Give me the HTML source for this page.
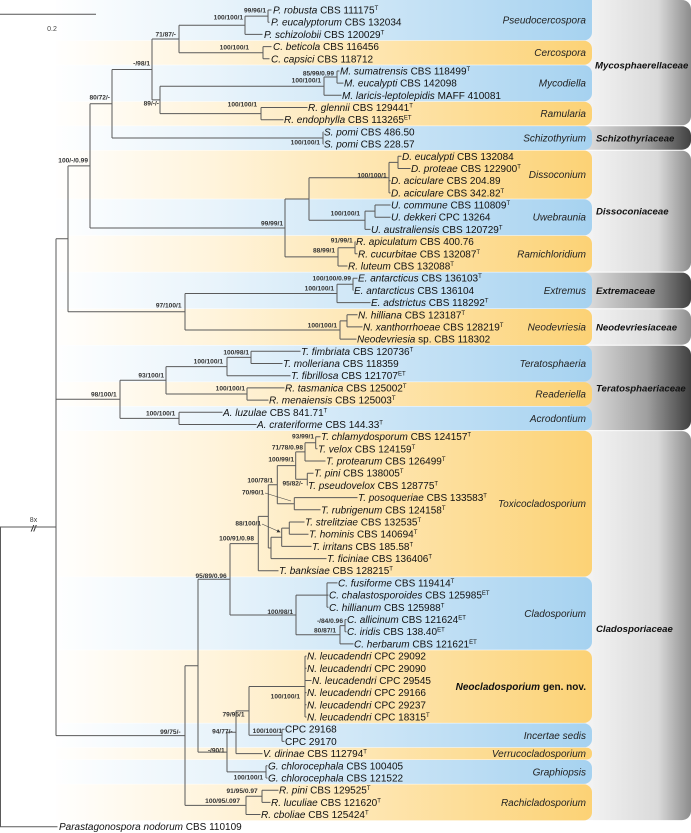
<!DOCTYPE html>
<html><head><meta charset="utf-8"><style>
html,body{margin:0;padding:0;background:#fff;}
svg{display:block;font-family:"Liberation Sans",sans-serif;}
.t{font-size:10px;fill:#111;}
.i{font-style:italic;}
.s{font-size:6px;}
.b{font-size:6.6px;font-weight:bold;fill:#333;text-anchor:end;}
.g{font-size:10px;font-style:italic;fill:#222;text-anchor:end;}
.f{font-size:9.6px;font-style:italic;font-weight:bold;fill:#111;}
</style></head><body>
<svg width="691" height="833" viewBox="0 0 691 833" xmlns="http://www.w3.org/2000/svg">
<defs>
<linearGradient id="bl" gradientUnits="userSpaceOnUse" x1="50" y1="0" x2="592" y2="0">
<stop offset="0" stop-color="#ffffff"/><stop offset="0.3" stop-color="#e9f4fb"/><stop offset="1" stop-color="#a6d2f0"/></linearGradient>
<linearGradient id="or" gradientUnits="userSpaceOnUse" x1="50" y1="0" x2="592" y2="0">
<stop offset="0" stop-color="#ffffff"/><stop offset="0.3" stop-color="#fff4dc"/><stop offset="1" stop-color="#fcd275"/></linearGradient>
<linearGradient id="fl" gradientUnits="userSpaceOnUse" x1="580" y1="0" x2="691" y2="0">
<stop offset="0" stop-color="#f6f6f6"/><stop offset="0.7" stop-color="#dadada"/><stop offset="1" stop-color="#8c8c8c"/></linearGradient>
<linearGradient id="fd" gradientUnits="userSpaceOnUse" x1="580" y1="0" x2="691" y2="0">
<stop offset="0" stop-color="#e4e4e4"/><stop offset="0.6" stop-color="#a0a0a0"/><stop offset="1" stop-color="#404040"/></linearGradient>
<marker id="ah" markerWidth="6" markerHeight="6" refX="5" refY="3" orient="auto"><path d="M0,0 L6,3 L0,6 z" fill="#333"/></marker>
</defs>

<rect x="570" y="0" width="121" height="125.3" rx="9" fill="url(#fl)"/>
<rect x="570" y="126.3" width="121" height="23.4" rx="9" fill="url(#fd)"/>
<rect x="570" y="150.7" width="121" height="120.9" rx="9" fill="url(#fl)"/>
<rect x="570" y="272.6" width="121" height="35.6" rx="9" fill="url(#fd)"/>
<rect x="570" y="309.2" width="121" height="35.5" rx="9" fill="url(#fl)"/>
<rect x="570" y="345.7" width="121" height="84.4" rx="9" fill="url(#fd)"/>
<rect x="570" y="431.1" width="121" height="389" rx="9" fill="url(#fl)"/>

<g>
<rect x="40" y="-10" width="552" height="50.3" rx="8" fill="url(#bl)"/>
<rect x="40" y="40.8" width="552" height="23.9" rx="8" fill="url(#or)"/>
<rect x="40" y="65.2" width="552" height="36" rx="8" fill="url(#bl)"/>
<rect x="40" y="101.7" width="552" height="23.9" rx="8" fill="url(#or)"/>
<rect x="40" y="126.1" width="552" height="23.9" rx="8" fill="url(#bl)"/>
<rect x="40" y="150.5" width="552" height="48.3" rx="8" fill="url(#or)"/>
<rect x="40" y="199.3" width="552" height="36" rx="8" fill="url(#bl)"/>
<rect x="40" y="235.8" width="552" height="36.1" rx="8" fill="url(#or)"/>
<rect x="40" y="272.4" width="552" height="36.1" rx="8" fill="url(#bl)"/>
<rect x="40" y="309" width="552" height="36" rx="8" fill="url(#or)"/>
<rect x="40" y="345.5" width="552" height="36.1" rx="8" fill="url(#bl)"/>
<rect x="40" y="382.1" width="552" height="23.9" rx="8" fill="url(#or)"/>
<rect x="40" y="406.5" width="552" height="23.9" rx="8" fill="url(#bl)"/>
<rect x="40" y="430.9" width="552" height="145.7" rx="8" fill="url(#or)"/>
<rect x="40" y="577.1" width="552" height="72.7" rx="8" fill="url(#bl)"/>
<rect x="40" y="650.3" width="552" height="72.6" rx="8" fill="url(#or)"/>
<rect x="40" y="723.4" width="552" height="23.9" rx="8" fill="url(#bl)"/>
<rect x="40" y="747.8" width="552" height="11.7" rx="5" fill="url(#or)"/>
<rect x="40" y="760" width="552" height="23.9" rx="8" fill="url(#bl)"/>
<rect x="40" y="784.4" width="552" height="36" rx="8" fill="url(#or)"/>
</g>
<rect x="0" y="0" width="56" height="833" fill="#fff"/>

<path d="M0,14.3 H96" stroke="#555" stroke-width="1" fill="none"/>
<text x="52" y="31" font-size="7" fill="#444" text-anchor="middle">0.2</text>
<text x="33.5" y="522" font-size="7" fill="#444" text-anchor="middle">8x</text>
<text x="33.5" y="531.5" font-size="9" font-weight="bold" font-style="italic" fill="#333" text-anchor="middle">//</text>

<path stroke="#5a5a5a" stroke-width="1" fill="none" d="
M268,10V22.2 M268,10H271.5 M268,22.2H269.5
M245,16.1V34.4 M245,16.1H268 M245,34.4H262.5
M263,46.6V58.8 M263,46.6H271.5 M263,58.8H269.5
M179,25.25V52.7 M179,25.25H245 M179,52.7H263
M337,71V83.1 M337,71H339.5 M337,83.1H343.5
M324,77V95.3 M324,77H337 M324,95.3H341.5
M261,107.5V119.7 M261,107.5H307.5 M261,119.7H283.5
M160,86.2V113.6 M160,86.2H324 M160,113.6H261
M152,39V99.9 M152,39H179 M152,99.9H160
M323,131.9V144.1 M323,131.9H323.5 M323,144.1H323.5
M112,69.5V138 M112,69.5H152 M112,138H323
M398,156.3V168.5 M398,156.3H401.5 M398,168.5H410.5
M389,162.4V192.9 M389,162.4H398 M389,180.7H390.5 M389,192.9H390.5
M375,205V217.2 M375,205H390.5 M375,217.2H390.5
M365,211.1V229.4 M365,211.1H375 M365,229.4H370.5
M309,177.7V220.3 M309,177.7H389 M309,220.3H365
M355,241.6V253.8 M355,241.6H355.5 M355,253.8H357.5
M338,247.7V266 M338,247.7H355 M338,266H347.5
M285,199V256.9 M285,199H309 M285,256.9H338
M90,103.8V228 M90,103.8H112 M90,228H285
M353,278.2V290.4 M353,278.2H357.5 M353,290.4H353.5
M337,284.3V302.6 M337,284.3H353 M337,302.6H370.5
M347,314.8V326.9 M347,314.8H357.5 M347,326.9H362.5
M340,320.9V339.1 M340,320.9H347 M340,339.1H356.5
M185,293.5V330 M185,293.5H337 M185,330H340
M68,165.9V311.7 M68,165.9H90 M68,311.7H185
M251,351.3V363.5 M251,351.3H300.5 M251,363.5H282.5
M227,357.4V375.7 M227,357.4H251 M227,375.7H290.5
M247,387.9V400.1 M247,387.9H284.5 M247,400.1H268.5
M166,366.6V394 M166,366.6H227 M166,394H247
M179,412.3V424.5 M179,412.3H222.5 M179,424.5H256.5
M120,380.3V418.4 M120,380.3H166 M120,418.4H179
M315.7,436.7V448.8 M315.7,436.7H320.5 M315.7,448.8H317.5
M305,442.8V461 M305,442.8H315.7 M305,461H325.5
M307.3,473.2V485.4 M307.3,473.2H313.5 M307.3,485.4H307.5
M295.7,451.9V479.3 M295.7,451.9H305 M295.7,479.3H307.3
M294.3,497.6V509.8 M294.3,497.6H357.5 M294.3,509.8H320.5
M277.3,465.6V503.7 M277.3,465.6H295.7 M277.3,503.7H294.3
M289.3,522V534.2 M289.3,522H304.5 M289.3,534.2H308.5
M281.7,528.1V546.4 M281.7,528.1H289.3 M281.7,546.4H311.5
M271,537.3V558.6 M271,537.3H281.7 M271,558.6H326.5
M268.3,484.7V548 M268.3,484.7H277.3 M268.3,548H271
M258.3,516.4V570.7 M258.3,516.4H268.3 M258.3,570.7H278.5
M327,582.9V607.3 M327,582.9H337.5 M327,595.1H328.5 M327,607.3H328.5
M345,619.5V631.7 M345,619.5H346.5 M345,631.7H346.5
M340,625.6V643.9 M340,625.6H345 M340,643.9H353.5
M296,595.1V634.8 M296,595.1H327 M296,634.8H340
M230,543.6V615 M230,543.6H258.3 M230,615H296
M305,656.1V717 M305,656.1H306.5 M305,668.3H306.5 M305,680.5H311.5 M305,692.6H306.5 M305,704.8H306.5 M305,717H306.5
M282,729.2V741.4 M282,729.2H284.5 M282,741.4H284.5
M249,686.5V735.3 M249,686.5H305 M249,735.3H282
M236,710.9V753.6 M236,710.9H249 M236,753.6H262.5
M266,765.8V778 M266,765.8H267.5 M266,778H267.5
M227,732.3V771.9 M227,732.3H236 M227,771.9H266
M198,579.3V752.1 M198,579.3H230 M198,752.1H227
M262,790.2V802.4 M262,790.2H278.5 M262,802.4H270.5
M246,796.3V814.5 M246,796.3H262 M246,814.5H260.5
M185,665.7V805.4 M185,665.7H198 M185,805.4H246
M56,238.8V735.6 M56,238.8H68 M56,399.3H120 M56,735.6H185
M0,527H56 M0.5,527V826.7 M0,826.7H57.5
"/>
<path d="M265,493 L291,501 M262,524 L280,532" stroke="#444" stroke-width="0.6" fill="none" marker-end="url(#ah)"/>

<g class="b">
<text x="266" y="12.5">99/96/1</text>
<text x="243" y="19.5">100/100/1</text>
<text x="176" y="36.5">71/87/-</text>
<text x="249" y="49.5">100/100/1</text>
<text x="150" y="65.5">-/98/1</text>
<text x="334" y="75.5">85/99/0.99</text>
<text x="321" y="82.5">100/100/1</text>
<text x="159" y="105.5">89/-/-</text>
<text x="257" y="106.5">100/100/1</text>
<text x="110" y="99.5">80/72/-</text>
<text x="320" y="144.5">100/100/1</text>
<text x="88" y="162.5">100/-/0.99</text>
<text x="386.7" y="177.5">100/100/1</text>
<text x="360" y="215.5">100/100/1</text>
<text x="283" y="225.5">99/99/1</text>
<text x="352.7" y="242.5">91/99/1</text>
<text x="335" y="252.5">88/99/1</text>
<text x="351" y="280.5">100/100/0.99</text>
<text x="334" y="290.5">100/100/1</text>
<text x="181.5" y="307.5">97/100/1</text>
<text x="337" y="327.5">100/100/1</text>
<text x="249" y="354.5">100/98/1</text>
<text x="223" y="363.5">100/100/1</text>
<text x="164" y="377.5">93/100/1</text>
<text x="245" y="390.5">100/100/1</text>
<text x="116.7" y="396.5">98/100/1</text>
<text x="175.3" y="415.5">100/100/1</text>
<text x="314" y="438.5">93/99/1</text>
<text x="303" y="449.5">71/78/0.98</text>
<text x="294" y="461.5">100/99/1</text>
<text x="273" y="482.5">100/78/1</text>
<text x="303" y="485.5">95/82/-</text>
<text x="264" y="494.5">70/90/1</text>
<text x="261" y="525.5">88/100/1</text>
<text x="254" y="540.5">100/91/0.98</text>
<text x="226.7" y="578">95/89/0.96</text>
<text x="293" y="614">100/98/1</text>
<text x="343" y="623">-/84/0.96</text>
<text x="336" y="632.5">80/87/1</text>
<text x="300" y="698.5">100/100/1</text>
<text x="244.5" y="716.5">79/95/1</text>
<text x="282" y="733">100/100/1</text>
<text x="232.6" y="733.5">94/77/-</text>
<text x="224.7" y="752.5">-/90/1</text>
<text x="263" y="779.5">100/100/1</text>
<text x="257.7" y="793">91/95/0.97</text>
<text x="240" y="803">100/95/.097</text>
<text x="180.6" y="734">99/75/-</text>
</g>

<g class="t">
<text x="273" y="13.5"><tspan class="i">P. robusta</tspan> CBS 111175<tspan class="s" dy="-3.5">T</tspan></text>
<text x="271" y="25.7"><tspan class="i">P. eucalyptorum</tspan> CBS 132034</text>
<text x="264" y="37.9"><tspan class="i">P. schizolobii</tspan> CBS 120029<tspan class="s" dy="-3.5">T</tspan></text>
<text x="273" y="50.1"><tspan class="i">C. beticola</tspan> CBS 116456</text>
<text x="271" y="62.3"><tspan class="i">C. capsici</tspan> CBS 118712</text>
<text x="340" y="74.5"><tspan class="i">M. sumatrensis</tspan> CBS 118499<tspan class="s" dy="-3.5">T</tspan></text>
<text x="344" y="86.6"><tspan class="i">M. eucalypti</tspan> CBS 142098</text>
<text x="342" y="98.8"><tspan class="i">M. laricis-leptolepidis</tspan> MAFF 410081</text>
<text x="308" y="111"><tspan class="i">R. glennii</tspan> CBS 129441<tspan class="s" dy="-3.5">T</tspan></text>
<text x="284" y="123.2"><tspan class="i">R. endophylla</tspan> CBS 113265<tspan class="s" dy="-3.5">ET</tspan></text>
<text x="324" y="135.4"><tspan class="i">S. pomi</tspan> CBS 486.50</text>
<text x="324" y="147.6"><tspan class="i">S. pomi</tspan> CBS 228.57</text>
<text x="402" y="159.8"><tspan class="i">D. eucalypti</tspan> CBS 132084</text>
<text x="411" y="172"><tspan class="i">D. proteae</tspan> CBS 122900<tspan class="s" dy="-3.5">T</tspan></text>
<text x="391" y="184.2"><tspan class="i">D. aciculare</tspan> CBS 204.89</text>
<text x="391" y="196.4"><tspan class="i">D. aciculare</tspan> CBS 342.82<tspan class="s" dy="-3.5">T</tspan></text>
<text x="391" y="208.5"><tspan class="i">U. commune</tspan> CBS 110809<tspan class="s" dy="-3.5">T</tspan></text>
<text x="391" y="220.7"><tspan class="i">U. dekkeri</tspan> CPC 13264</text>
<text x="371" y="232.9"><tspan class="i">U. australiensis</tspan> CBS 120729<tspan class="s" dy="-3.5">T</tspan></text>
<text x="356" y="245.1"><tspan class="i">R. apiculatum</tspan> CBS 400.76</text>
<text x="358" y="257.3"><tspan class="i">R. cucurbitae</tspan> CBS 132087<tspan class="s" dy="-3.5">T</tspan></text>
<text x="348" y="269.5"><tspan class="i">R. luteum</tspan> CBS 132088<tspan class="s" dy="-3.5">T</tspan></text>
<text x="358" y="281.7"><tspan class="i">E. antarcticus</tspan> CBS 136103<tspan class="s" dy="-3.5">T</tspan></text>
<text x="354" y="293.9"><tspan class="i">E. antarcticus</tspan> CBS 136104</text>
<text x="371" y="306.1"><tspan class="i">E. adstrictus</tspan> CBS 118292<tspan class="s" dy="-3.5">T</tspan></text>
<text x="358" y="318.3"><tspan class="i">N. hilliana</tspan> CBS 123187<tspan class="s" dy="-3.5">T</tspan></text>
<text x="363" y="330.4"><tspan class="i">N. xanthorrhoeae</tspan> CBS 128219<tspan class="s" dy="-3.5">T</tspan></text>
<text x="357" y="342.6"><tspan class="i">Neodevriesia</tspan> sp. CBS 118302</text>
<text x="301" y="354.8"><tspan class="i">T. fimbriata</tspan> CBS 120736<tspan class="s" dy="-3.5">T</tspan></text>
<text x="283" y="367"><tspan class="i">T. molleriana</tspan> CBS 118359</text>
<text x="291" y="379.2"><tspan class="i">T. fibrillosa</tspan> CBS 121707<tspan class="s" dy="-3.5">ET</tspan></text>
<text x="285" y="391.4"><tspan class="i">R. tasmanica</tspan> CBS 125002<tspan class="s" dy="-3.5">T</tspan></text>
<text x="269" y="403.6"><tspan class="i">R. menaiensis</tspan> CBS 125003<tspan class="s" dy="-3.5">T</tspan></text>
<text x="223" y="415.8"><tspan class="i">A. luzulae</tspan> CBS 841.71<tspan class="s" dy="-3.5">T</tspan></text>
<text x="257" y="428"><tspan class="i">A. crateriforme</tspan> CBS 144.33<tspan class="s" dy="-3.5">T</tspan></text>
<text x="321" y="440.2"><tspan class="i">T. chlamydosporum</tspan> CBS 124157<tspan class="s" dy="-3.5">T</tspan></text>
<text x="318" y="452.3"><tspan class="i">T. velox</tspan> CBS 124159<tspan class="s" dy="-3.5">T</tspan></text>
<text x="326" y="464.5"><tspan class="i">T. protearum</tspan> CBS 126499<tspan class="s" dy="-3.5">T</tspan></text>
<text x="314" y="476.7"><tspan class="i">T. pini</tspan> CBS 138005<tspan class="s" dy="-3.5">T</tspan></text>
<text x="308" y="488.9"><tspan class="i">T. pseudovelox</tspan> CBS 128775<tspan class="s" dy="-3.5">T</tspan></text>
<text x="358" y="501.1"><tspan class="i">T. posoqueriae</tspan> CBS 133583<tspan class="s" dy="-3.5">T</tspan></text>
<text x="321" y="513.3"><tspan class="i">T. rubrigenum</tspan> CBS 124158<tspan class="s" dy="-3.5">T</tspan></text>
<text x="305" y="525.5"><tspan class="i">T. strelitziae</tspan> CBS 132535<tspan class="s" dy="-3.5">T</tspan></text>
<text x="309" y="537.7"><tspan class="i">T. hominis</tspan> CBS 140694<tspan class="s" dy="-3.5">T</tspan></text>
<text x="312" y="549.9"><tspan class="i">T. irritans</tspan> CBS 185.58<tspan class="s" dy="-3.5">T</tspan></text>
<text x="327" y="562.1"><tspan class="i">T. ficiniae</tspan> CBS 136406<tspan class="s" dy="-3.5">T</tspan></text>
<text x="279" y="574.2"><tspan class="i">T. banksiae</tspan> CBS 128215<tspan class="s" dy="-3.5">T</tspan></text>
<text x="338" y="586.4"><tspan class="i">C. fusiforme</tspan> CBS 119414<tspan class="s" dy="-3.5">T</tspan></text>
<text x="329" y="598.6"><tspan class="i">C. chalastosporoides</tspan> CBS 125985<tspan class="s" dy="-3.5">ET</tspan></text>
<text x="329" y="610.8"><tspan class="i">C. hillianum</tspan> CBS 125988<tspan class="s" dy="-3.5">T</tspan></text>
<text x="347" y="623"><tspan class="i">C. allicinum</tspan> CBS 121624<tspan class="s" dy="-3.5">ET</tspan></text>
<text x="347" y="635.2"><tspan class="i">C. iridis</tspan> CBS 138.40<tspan class="s" dy="-3.5">ET</tspan></text>
<text x="354" y="647.4"><tspan class="i">C. herbarum</tspan> CBS 121621<tspan class="s" dy="-3.5">ET</tspan></text>
<text x="307" y="659.6"><tspan class="i">N. leucadendri</tspan> CPC 29092</text>
<text x="307" y="671.8"><tspan class="i">N. leucadendri</tspan> CPC 29090</text>
<text x="312" y="684"><tspan class="i">N. leucadendri</tspan> CPC 29545</text>
<text x="307" y="696.1"><tspan class="i">N. leucadendri</tspan> CPC 29166</text>
<text x="307" y="708.3"><tspan class="i">N. leucadendri</tspan> CPC 29237</text>
<text x="307" y="720.5"><tspan class="i">N. leucadendri</tspan> CPC 18315<tspan class="s" dy="-3.5">T</tspan></text>
<text x="285" y="732.7">CPC 29168</text>
<text x="285" y="744.9">CPC 29170</text>
<text x="263" y="757.1"><tspan class="i">V. dirinae</tspan> CBS 112794<tspan class="s" dy="-3.5">T</tspan></text>
<text x="268" y="769.3"><tspan class="i">G. chlorocephala</tspan> CBS 100405</text>
<text x="268" y="781.5"><tspan class="i">G. chlorocephala</tspan> CBS 121522</text>
<text x="279" y="793.7"><tspan class="i">R. pini</tspan> CBS 129525<tspan class="s" dy="-3.5">T</tspan></text>
<text x="271" y="805.9"><tspan class="i">R. luculiae</tspan> CBS 121620<tspan class="s" dy="-3.5">T</tspan></text>
<text x="261" y="818"><tspan class="i">R. cboliae</tspan> CBS 125424<tspan class="s" dy="-3.5">T</tspan></text>
<text x="59" y="830.2"><tspan class="i">Parastagonospora nodorum</tspan> CBS 110109</text>
</g>

<g class="g">
<text x="586" y="23.7">Pseudocercospora</text>
<text x="586" y="56.2">Cercospora</text>
<text x="586" y="86.6">Mycodiella</text>
<text x="586" y="117.1">Ramularia</text>
<text x="586" y="141.5">Schizothyrium</text>
<text x="586" y="178.1">Dissoconium</text>
<text x="586" y="220.7">Uwebraunia</text>
<text x="586" y="257.3">Ramichloridium</text>
<text x="586" y="293.9">Extremus</text>
<text x="586" y="330.4">Neodevriesia</text>
<text x="586" y="367">Teratosphaeria</text>
<text x="586" y="397.5">Readeriella</text>
<text x="586" y="421.9">Acrodontium</text>
<text x="586" y="507.2">Toxicocladosporium</text>
<text x="586" y="616.9">Cladosporium</text>
<text x="586" y="690" font-weight="bold" fill="#111">Neocladosporium<tspan font-style="normal"> gen. nov.</tspan></text>
<text x="586" y="738.8">Incertae sedis</text>
<text x="586" y="757.1">Verrucocladosporium</text>
<text x="586" y="775.4">Graphiopsis</text>
<text x="586" y="805.9">Rachicladosporium</text>
</g>

<g class="f">
<text x="595" y="68.5">Mycosphaerellaceae</text>
<text x="596" y="141.5">Schizothyriaceae</text>
<text x="596" y="214.5">Dissoconiaceae</text>
<text x="596" y="293.9">Extremaceae</text>
<text x="596" y="330.4">Neodevriesiaceae</text>
<text x="596" y="391.5">Teratosphaeriaceae</text>
<text x="596" y="632">Cladosporiaceae</text>
</g>
</svg>
</body></html>
